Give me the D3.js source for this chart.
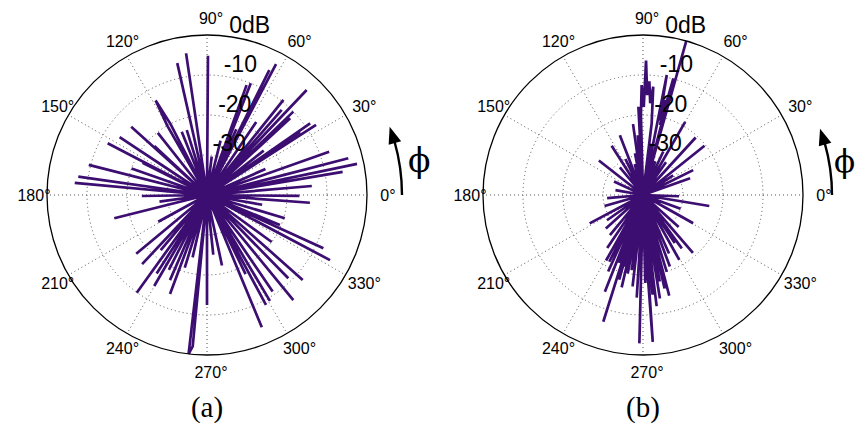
<!DOCTYPE html>
<html>
<head>
<meta charset="utf-8">
<script src="https://cdn.jsdelivr.net/npm/d3@7"></script>
<style>
  html, body { margin: 0; padding: 0; background: #fff; }
  svg { display: block; }
</style>
</head>
<body>
<svg id="chart" width="856" height="426"></svg>
<script>
// ---- chart data -------------------------------------------------------
const F = -40;                                   // floor of the dB scale (trace passes through the centre)
const ringLevels  = [-30, -20, -10];             // dotted rings, dB
const ringLabels  = ["-30", "-20", "-10", "0dB"];
const labelLevels = [-30, -20, -10, 0];
const spokeAngles = [0, 30, 60, 90, 120, 150, 180, 210, 240, 270, 300, 330];
const angleLabels = ["0°", "30°", "60°", "90°", "120°", "150°", "180°", "210°", "240°", "270°", "300°", "330°"];
const panelLabels = ["(a)", "(b)"];

// pattern (a): [azimuth in degrees, level in dB]
const traceA = [
  [0, F],
  [4.9, -13.7], [4.9, F], [9.7, -5.6], [9.7, F], [11.7, -1.7], [11.7, F],
  [14.6, -3.5], [14.6, F], [19.5, -7.6], [19.5, F], [24, -24], [24, F],
  [32.7, -7.6], [32.7, F], [34.2, -11.9], [34.2, F], [34.8, -8.6], [34.8, F],
  [38, -22], [38, F], [42.7, -11.7], [42.7, F], [44, -10], [44, F],
  [46.5, -3.8], [46.5, F], [48.7, -11.7], [48.7, F], [51.2, -9.5], [51.2, F],
  [56, -18], [56, F], [62.2, -3], [62.2, F], [63.5, -5.1], [63.5, F],
  [66, -22], [66, F], [68.6, -10], [68.6, F], [69.4, -18], [69.4, F],
  [70.2, -10.8], [70.2, F], [76, -26], [76, F], [83, -30.3], [83, F],
  [89.6, -5.2], [89.6, F], [98.4, -4.2], [98.4, F], [102.7, -6.2], [102.7, F],
  [107.3, -23], [107.3, F], [111.8, -23], [111.8, F],
  [117.2, -20], [118.5, -13.1], [119.8, -20], [119.8, F],
  [128.4, -20.2], [128.4, F], [137, -22], [137, F], [138, -14.5], [138, F],
  [146.5, -13.8], [146.5, F], [152.5, -12], [152.5, F], [153.5, -22], [153.5, F],
  [160.7, -20], [160.7, F], [165.7, -9.5], [165.7, F], [171.9, -7.5], [171.9, F],
  [174.8, -6.8], [174.8, F], [180.9, -23.7], [180.9, F], [188, -28], [188, F],
  [194.1, -16.1], [194.1, F], [208.7, -26.1], [208.7, F], [219.7, -17], [219.7, F],
  [226.8, -16.3], [226.8, F], [230, -22], [230, F], [234.3, -9.9], [234.3, F],
  [237.3, -16.7], [237.3, F], [239.9, -13.7], [239.9, F], [243, -19], [243, F],
  [246.5, -16.8], [246.5, F], [249.5, -13.6], [249.5, F], [253, -21], [253, F],
  [257, -24], [257, F], [263.4, 0], [264.6, -2], [264.6, F],
  [270, -12.5], [270, F], [276, -25], [276, F], [282, -22], [282, F],
  [292.5, -4.2], [292.5, F], [296, -18], [296, F], [298.2, -8.8], [298.2, F],
  [300.7, -9.2], [300.7, F], [304.2, -10.8], [304.2, F], [309.4, -6], [309.4, F],
  [314.3, -10.9], [314.3, F], [318.4, -8], [318.4, F], [324, -20], [324, F],
  [332.1, -5.2], [332.1, F], [335.4, -8], [335.4, F], [337.7, -20.3], [337.7, F],
  [343.4, -19.7], [343.4, F], [350, -26], [350, F], [355.7, -14.2], [355.7, F],
  [359.4, -16.9], [359.4, F]
];

// pattern (b): [azimuth in degrees, level in dB]
const traceB = [
  [0, F],
  [19.6, -27.5], [19.6, F], [26.4, -26], [26.4, F], [33, -31], [33, F],
  [38.7, -20.3], [38.7, F], [47.5, -20.5], [47.5, F], [55, -30], [55, F],
  [60, -18.9], [60, F], [65, -28], [65, F], [70, -31], [70, F],
  [74.3, 0], [74.3, F],
  [75.4, -9.9], [76.3, -22], [77, -15.6], [77.6, -21], [78.8, -9.4], [78.8, F],
  [80, -27], [80, F],
  [83.1, -22], [84.6, -12.8], [85.5, -17], [86.8, -11.5], [87.6, -15],
  [88.7, -6.4], [89.5, -18], [90.7, -12.5], [91.5, -20], [91.5, F],
  [93, -17.9], [93, F], [95, -25], [95, F], [98, -22.1], [98, F],
  [100.9, -29.4], [100.9, F], [105, -32], [105, F], [111.2, -24], [111.2, F],
  [116, -30], [116, F], [122.5, -25.4], [122.5, F], [130, -31], [130, F],
  [142, -26], [142, F], [155, -32], [155, F], [170, -33], [170, F],
  [185, -31], [185, F], [196, -30], [196, F], [208, -24.9], [208, F],
  [215, -29], [215, F], [222, -27.5], [222, F], [230.5, -27], [230.5, F],
  [236, -24], [236, F], [240.6, -21.2], [240.6, F], [243.2, -21.3], [243.2, F],
  [245.5, -19], [245.5, F], [248.5, -14], [248.5, F], [250.5, -22], [250.5, F],
  [252.6, -6.8], [252.6, F], [254.3, -18], [254.3, F], [255.5, -21.5], [255.5, F],
  [257, -16.3], [257, F], [259, -20], [259, F], [261.4, -21], [261.4, F],
  [263.5, -17], [263.5, F], [266.5, -14.3], [266.5, F], [268.6, -2.9], [268.6, F],
  [271.5, -18], [273, -26], [273.8, -3.2], [273.8, F],
  [275.5, -15], [275.5, F], [277, -12], [277, F], [279.3, -13.8], [279.3, F],
  [281, -18], [281, F], [283, -16], [283, F], [284.6, -14], [284.6, F],
  [287.2, -19.9], [287.2, F], [290.6, -20.9], [290.6, F], [294, -24], [294, F],
  [299.2, -21.4], [299.2, F], [303.5, -25.6], [303.5, F], [306, -23.5], [306, F],
  [310.8, -20.9], [310.8, F], [318, -28], [318, F], [330.6, -25.6], [330.6, F],
  [340, -30], [340, F], [350.6, -23.2], [350.6, F], [358, -31], [358, F]
];

const traces = [traceA, traceB];

// ---- layout -----------------------------------------------------------
const R = 160;                                   // radius of the 0 dB circle
const centres = [[207, 195], [643, 195]];
const arrowRadius = [195, 189];
const phiOffset = [201, 191];                    // x of the φ symbol from each centre
const phiSize = [33, 31];
const labelRadius = 177;
const lineColor = "#3d0e71";

const svg = d3.select("#chart");
const rScale = d3.scaleLinear().domain([F, 0]).range([0, R]).clamp(true);
const rad = d => d * Math.PI / 180;

const radial = d3.lineRadial()
  .angle(d => rad(90 - d[0]))
  .radius(d => rScale(d[1]));

centres.forEach(([cx, cy], i) => {
  const g = svg.append("g").attr("transform", `translate(${cx},${cy})`);

  // dotted spokes
  g.selectAll("line.spoke").data(spokeAngles).join("line")
    .attr("class", "spoke")
    .attr("x1", 0).attr("y1", 0)
    .attr("x2", a => R * Math.cos(rad(a)))
    .attr("y2", a => -R * Math.sin(rad(a)))
    .attr("stroke", "#555").attr("stroke-width", 1)
    .attr("stroke-dasharray", "1,3");

  // dotted rings
  g.selectAll("circle.ring").data(ringLevels).join("circle")
    .attr("class", "ring")
    .attr("r", d => rScale(d))
    .attr("fill", "none")
    .attr("stroke", "#555").attr("stroke-width", 1)
    .attr("stroke-dasharray", "1,3");

  // radiation pattern
  g.append("path")
    .datum(traces[i])
    .attr("d", radial)
    .attr("fill", "none")
    .attr("stroke", lineColor)
    .attr("stroke-width", 2.7);

  // outer circle
  g.append("circle")
    .attr("r", R)
    .attr("fill", "none")
    .attr("stroke", "#000").attr("stroke-width", 1.3);

  // level labels
  g.selectAll("text.level").data(labelLevels).join("text")
    .attr("class", "level")
    .attr("x", d => rScale(d) * Math.cos(rad(82)))
    .attr("y", d => -rScale(d) * Math.sin(rad(82)) - 4)
    .attr("font-family", "Liberation Sans, Arial, sans-serif")
    .attr("font-size", 23)
    .attr("fill", "#000")
    .text((d, k) => ringLabels[k]);

  // azimuth labels
  g.selectAll("text.azi").data(spokeAngles).join("text")
    .attr("class", "azi")
    .attr("x", a => labelRadius * Math.cos(rad(a)) + 4)
    .attr("y", a => -labelRadius * Math.sin(rad(a)))
    .attr("text-anchor", "middle")
    .attr("dominant-baseline", "central")
    .attr("font-family", "Liberation Sans, Arial, sans-serif")
    .attr("font-size", 16)
    .attr("fill", "#000")
    .text((a, k) => angleLabels[k]);

  // direction-of-rotation arrow
  const ar = arrowRadius[i];
  const a0 = 0, a1 = 16, aTip = 20.5, headHalf = 6.5;
  const pt = (rr, a) => [rr * Math.cos(rad(a)), -rr * Math.sin(rad(a))];
  const p0 = pt(ar, a0), p1 = pt(ar, a1);
  g.append("path")
    .attr("d", `M${p0[0]},${p0[1]} A${ar},${ar} 0 0 0 ${p1[0]},${p1[1]}`)
    .attr("fill", "none")
    .attr("stroke", "#000").attr("stroke-width", 2.4);
  const tip = pt(ar, aTip), bL = pt(ar - headHalf, a1 - 0.5), bR = pt(ar + headHalf, a1 - 0.5);
  g.append("path")
    .attr("d", `M${tip[0]},${tip[1]} L${bL[0]},${bL[1]} L${bR[0]},${bR[1]} Z`)
    .attr("fill", "#000");

  g.append("text")
    .attr("x", phiOffset[i])
    .attr("y", -23)
    .attr("font-family", "DejaVu Serif, serif")
    .attr("font-size", phiSize[i])
    .attr("fill", "#000")
    .text("ϕ");

  // panel caption
  svg.append("text")
    .attr("x", cx)
    .attr("y", 417)
    .attr("text-anchor", "middle")
    .attr("font-family", "Liberation Serif, Times New Roman, serif")
    .attr("font-size", 29)
    .attr("fill", "#000")
    .text(panelLabels[i]);
});
</script>
</body>
</html>
